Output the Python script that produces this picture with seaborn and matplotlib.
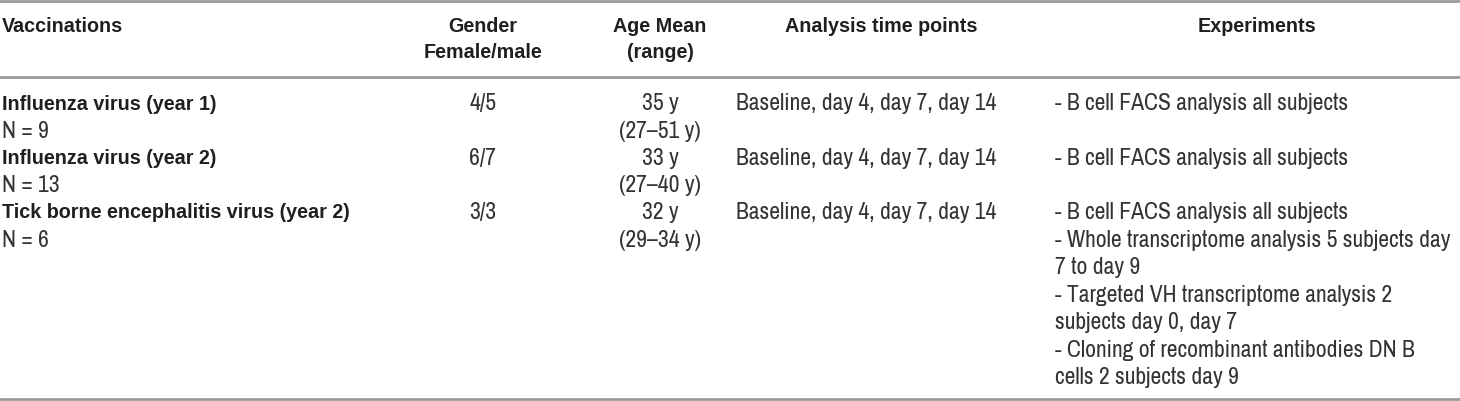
import matplotlib
matplotlib.use("Agg")
import matplotlib.pyplot as plt
import seaborn as sns

# ---- data ----
headers = ["Vaccinations", "Gender\nFemale/male", "Age Mean\n(range)",
           "Analysis time points", "Experiments"]
vaccinations = ["Influenza virus (year 1)", "Influenza virus (year 2)",
                "Tick borne encephalitis virus (year 2)"]
n_subjects = ["N = 9", "N = 13", "N = 6"]
gender = ["4/5", "6/7", "3/3"]
age_mean = ["35 y", "33 y", "32 y"]
age_range = ["(27\u201351 y)", "(27\u201340 y)", "(29\u201334 y)"]
time_points = ["Baseline, day 4, day 7, day 14"] * 3
experiments = [
    ["- B cell FACS analysis all subjects"],
    ["- B cell FACS analysis all subjects"],
    ["- B cell FACS analysis all subjects",
     "- Whole transcriptome analysis 5 subjects day",
     "7 to day 9",
     "- Targeted VH transcriptome analysis 2",
     "subjects day 0, day 7",
     "- Cloning of recombinant antibodies DN B",
     "cells 2 subjects day 9"],
]

sns.set_theme(style="white")
plt.rcParams['font.family'] = ['Liberation Sans Narrow', 'Archivo Narrow', 'DejaVu Sans']
BOLD_FAM = ['Liberation Sans', 'Arimo', 'DejaVu Sans']

W, H = 1460, 402
fig = plt.figure(figsize=(W / 100, H / 100), dpi=100)
ax = fig.add_axes([0, 0, 1, 1])
ax.set_xlim(0, W)
ax.set_ylim(H, 0)
ax.axis("off")

fs = 17
fsb = 14.2
txt = "#333333"
bold_c = "#1f1f1f"
line_c = "#9a9a9a"


def btext(x, y, s, ha):
    ax.text(x, y, s, ha=ha, va="center", fontsize=fsb, weight="bold",
            color=bold_c, family=BOLD_FAM)


# rules
for y in (1.5, 78, 399.5):
    ax.axhline(y, color=line_c, lw=2)

# header
hy1, hy2 = 27, 53
btext(2, hy1, headers[0], "left")
for x, h in zip((483, 660), headers[1:3]):
    l1, l2 = h.split("\n")
    btext(x, hy1, l1, "center")
    btext(x, hy2, l2, "center")
btext(881, hy1, headers[3], "center")
btext(1257, hy1, headers[4], "center")

step = 27.5
row_y = [104, 158.5, 213]
for i, y in enumerate(row_y):
    btext(2, y, vaccinations[i], "left")
    ax.text(2, y + step, n_subjects[i], ha="left", va="center", fontsize=fs, color=txt)
    ax.text(483, y, gender[i], ha="center", va="center", fontsize=fs, color=txt)
    ax.text(660, y, age_mean[i], ha="center", va="center", fontsize=fs, color=txt)
    ax.text(660, y + step, age_range[i], ha="center", va="center", fontsize=fs, color=txt)
    ax.text(736, y, time_points[i], ha="left", va="center", fontsize=fs, color=txt)
    for j, line in enumerate(experiments[i]):
        ax.text(1055, y + j * step, line, ha="left", va="center", fontsize=fs, color=txt)

fig.savefig("out.png", dpi=100, facecolor="white")
